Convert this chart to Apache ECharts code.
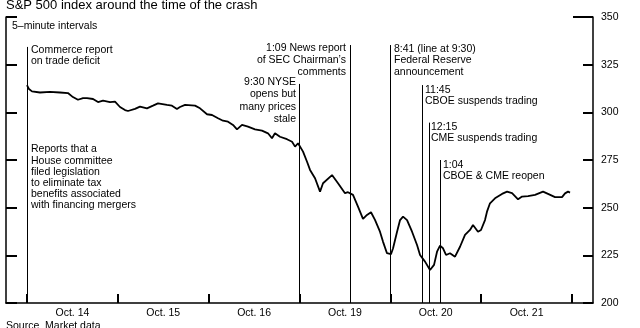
<!DOCTYPE html>
<html>
<head>
<meta charset="utf-8">
<script src="https://cdn.jsdelivr.net/npm/echarts@6/dist/echarts.min.js"></script>
<style>
html,body{margin:0;padding:0;background:#fff;}
#c{width:640px;height:328px;}
</style>
</head>
<body>
<div id="c"></div>
<script>
// ---- data ----
const titleText = 'S&P 500 index around the time of the crash';
const sourceText = 'Source  Market data';
const noteText = '5\u2013minute intervals';
const dayLabels = ['Oct. 14', 'Oct. 15', 'Oct. 16', 'Oct. 19', 'Oct. 20', 'Oct. 21'];
const dayBounds = [0, 1, 2, 3, 4, 5, 6];
const labelPositions = [0.5, 1.5, 2.5, 3.5, 4.5, 5.5];
const yMin = 200, yMax = 350, yStep = 25;

// time in trading days from Oct 14 open (9:30 = .0, 4:00 = 1.0)
const times = [
  0.000, 0.022, 0.055, 0.143, 0.253, 0.363, 0.451, 0.506, 0.561, 0.617, 0.661, 0.727, 0.782, 0.837, 0.914, 0.969, 0.991,
  1.024, 1.079, 1.112, 1.189, 1.244, 1.321, 1.387, 1.442, 1.541, 1.596, 1.651, 1.684, 1.740, 1.850, 1.905, 1.982,
  2.037, 2.103, 2.158, 2.213, 2.268, 2.312, 2.367, 2.433, 2.510, 2.587, 2.653, 2.697, 2.730, 2.785, 2.862, 2.918, 2.951, 2.984,
  3.006, 3.039, 3.083, 3.116, 3.171, 3.226, 3.259, 3.358, 3.424, 3.501, 3.534, 3.556, 3.589, 3.644, 3.699, 3.743, 3.787, 3.831, 3.886, 3.919, 3.963, 3.985,
  4.007, 4.030, 4.074, 4.107, 4.140, 4.184, 4.239, 4.294, 4.327, 4.382, 4.437, 4.459, 4.481, 4.514, 4.547, 4.580, 4.613, 4.657, 4.712, 4.767, 4.822, 4.877, 4.910, 4.965, 4.998,
  5.042, 5.064, 5.097, 5.152, 5.229, 5.285, 5.340, 5.406, 5.450, 5.516, 5.593, 5.681, 5.736, 5.813, 5.890, 5.923, 5.956, 5.978
];
const spx = [
  314.3, 312.2, 311.0, 310.4, 310.7, 310.4, 310.1, 308.0, 306.6, 307.5, 307.5, 307.0, 305.4, 306.1, 305.4, 305.6, 304.9,
  302.8, 301.2, 300.7, 301.8, 303.0, 302.1, 303.5, 304.7, 303.9, 303.5, 301.8, 302.8, 303.9, 303.5, 302.1, 299.0,
  298.6, 296.9, 295.6, 295.1, 293.4, 291.1, 293.4, 292.5, 291.1, 290.4, 289.0, 286.4, 289.0, 287.2, 285.9, 284.6, 282.0, 283.8,
  283.2, 279.4, 274.1, 269.8, 265.4, 258.4, 262.8, 267.1, 262.8, 257.6, 258.1, 258.8, 256.7, 250.5, 244.1, 246.2, 247.6, 243.6, 237.4, 232.2, 226.1, 225.5,
  225.6, 228.7, 237.4, 243.5, 245.3, 243.5, 237.4, 230.4, 225.2, 221.7, 217.3, 216.8, 220.0, 226.9, 230.1, 228.7, 225.2, 226.1, 224.3, 229.5, 235.7, 238.3, 240.9, 237.4, 238.3,
  243.5, 247.9, 252.3, 254.9, 257.2, 258.4, 257.6, 254.4, 255.8, 256.1, 256.7, 258.4, 257.2, 255.5, 255.5, 257.5, 258.4, 257.9
];

// event lines: time position and top value of each line
const eventTimes = [0.0, 3.0, 3.5615, 4.0, 4.346, 4.423, 4.549];
const eventTops  = [334.3, 314.9, 335.3, 335.3, 314.3, 294.6, 275.0];
const eventTexts = [
  'Commerce report\non trade deficit',
  '9:30 NYSE\nopens but\nmany prices\nstale',
  '1:09 News report\nof SEC Chairman\u2019s\ncomments',
  '8:41 (line at 9:30)\nFederal Reserve\nannouncement',
  '11:45\nCBOE suspends trading',
  '12:15\nCME suspends trading',
  '1:04\nCBOE & CME reopen'
];
const houseText = 'Reports that a\nHouse committee\nfiled legislation\nto eliminate tax\nbenefits associated\nwith financing mergers';

// ---- layout (pixels) for annotation text ----
const textLayout = [
  {x: 31, y: 44, align: 'left', lh: 11.7},
  {x: 296, y: 76, align: 'right', lh: 12.3},
  {x: 346, y: 42, align: 'right', lh: 12},
  {x: 394, y: 43, align: 'left', lh: 11.5},
  {x: 425, y: 84, align: 'left', lh: 11.7},
  {x: 431, y: 121, align: 'left', lh: 11.7},
  {x: 443, y: 159, align: 'left', lh: 11.3}
];

const FONT = '"Liberation Sans", Arial, Helvetica, sans-serif';
const xMin = -0.231, xMax = 6.231;

const lineData = times.map((t, i) => [t, spx[i]]);
const markData = eventTimes.map((t, i) => [{coord: [t, eventTops[i]]}, {coord: [t, yMin]}]);
// extended top tick on right
markData.push([{coord: [xMax - 0.22, yMax], lineStyle: {width: 2}}, {coord: [xMax, yMax]}]);

const graphics = [
  {type: 'text', left: 6, top: -1, style: {text: titleText, font: '13px ' + FONT, fill: '#000'}},
  {type: 'text', left: 6, top: 321, style: {text: sourceText, font: '10.5px ' + FONT, fill: '#000'}},
  {type: 'text', left: 12, top: 21, style: {text: noteText, font: '10.5px ' + FONT, fill: '#000'}},
  {type: 'text', left: 31, top: 144, style: {text: houseText, font: '10.5px ' + FONT, fill: '#000', lineHeight: 11.2}}
];
eventTexts.forEach((t, i) => {
  const L = textLayout[i];
  graphics.push({
    type: 'text', x: L.x, y: L.y,
    style: {text: t, font: '10.5px ' + FONT, fill: '#000', lineHeight: L.lh, align: L.align, verticalAlign: 'top'}
  });
});

const chart = echarts.init(document.getElementById('c'), null, {renderer: 'canvas'});
chart.setOption({
  animation: false,
  backgroundColor: '#fff',
  grid: {left: 6, right: 47, top: 17, bottom: 25, containLabel: false},
  xAxis: {
    type: 'value', min: xMin, max: xMax,
    axisLine: {show: true, onZero: false, lineStyle: {color: '#000', width: 1.5}},
    axisTick: {show: true, inside: true, length: 9, customValues: dayBounds, lineStyle: {color: '#000', width: 2}},
    axisLabel: {
      show: true, customValues: labelPositions, margin: 5,
      fontFamily: FONT, fontSize: 10.5, color: '#000',
      formatter: v => dayLabels[Math.floor(v)]
    },
    splitLine: {show: false}
  },
  yAxis: [
    {
      type: 'value', position: 'left', min: yMin, max: yMax, interval: yStep,
      axisLine: {show: true, onZero: false, lineStyle: {color: '#000', width: 1.5}},
      axisTick: {show: true, inside: true, length: 11, lineStyle: {color: '#000', width: 2}},
      axisLabel: {show: false}, splitLine: {show: false}
    },
    {
      type: 'value', position: 'right', min: yMin, max: yMax, interval: yStep,
      axisLine: {show: true, onZero: false, lineStyle: {color: '#000', width: 1.5}},
      axisTick: {show: true, inside: true, length: 10, lineStyle: {color: '#000', width: 2}},
      axisLabel: {show: true, margin: 8, fontFamily: FONT, fontSize: 10.5, color: '#000'},
      splitLine: {show: false}
    }
  ],
  series: [{
    type: 'line', yAxisIndex: 1, data: lineData, showSymbol: false, symbol: 'none',
    lineStyle: {color: '#000', width: 1.8}, z: 5,
    markLine: {
      silent: true, symbol: 'none', animation: false,
      label: {show: false},
      lineStyle: {color: '#000', width: 1, type: 'solid'},
      emphasis: {disabled: true},
      data: markData
    }
  }],
  graphic: graphics
});
</script>
</body>
</html>
